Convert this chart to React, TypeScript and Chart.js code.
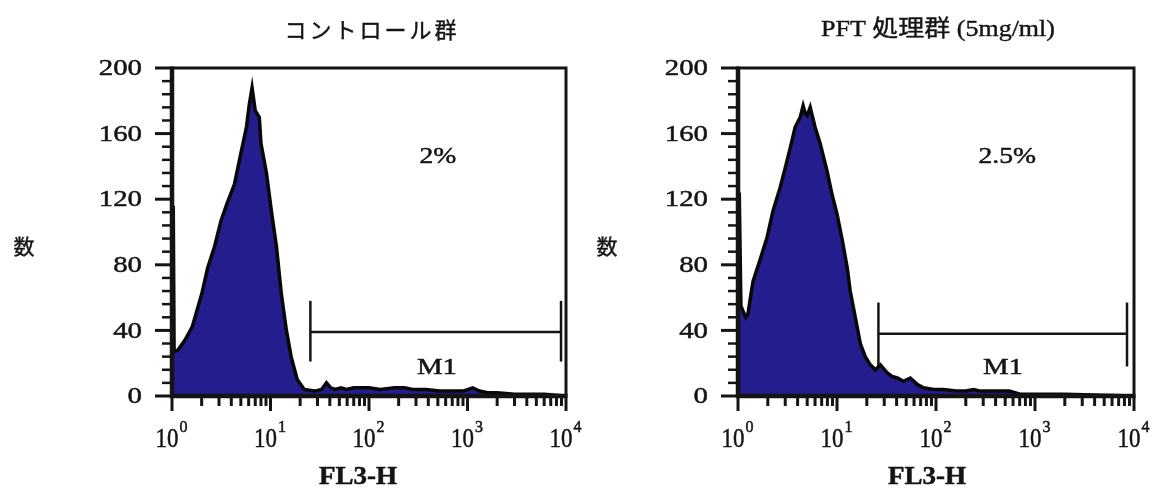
import React, { useEffect, useRef } from "react";
import { Chart, registerables } from "chart.js";
Chart.register(...registerables);

// ---------- data ----------
const controlX = [1, 1.03, 1.05, 1.15, 1.35, 1.6, 2.0, 2.3, 2.7, 3.15, 3.6, 4.3, 5.0, 5.7, 6.1, 6.5, 7.0, 7.7, 8.0, 9.1, 10.2, 11.5, 12.9, 14.5, 16.2, 18.7, 22, 28, 33, 37, 41, 45, 52, 59, 70, 85, 100, 130, 182, 230, 277, 380, 520, 700, 900, 1130, 1320, 1600, 2000, 3000, 4300, 6000, 10000];
const controlY = [115, 115, 27, 28, 34, 42, 62, 78, 91, 107, 117, 129, 148, 164, 178, 188, 174, 170, 154, 136, 113, 91, 62, 40, 24, 10, 4, 3, 4, 8, 5, 4, 5, 4, 5, 5, 5, 4, 5, 5, 4, 4, 3, 3, 3, 5, 3, 2, 2, 1, 1, 1, 0];

const pftX = [1, 1.03, 1.07, 1.12, 1.2, 1.26, 1.32, 1.42, 1.67, 1.97, 2.26, 2.66, 3.0, 3.36, 3.78, 4.25, 4.55, 4.8, 5.0, 5.36, 6.0, 6.76, 7.95, 8.9, 10.0, 11.3, 12.7, 13.6, 15.3, 17.2, 19.3, 21.7, 24.4, 27.4, 32.3, 36, 40.7, 46.8, 55, 65, 74.8, 95, 119, 160, 200, 240, 281, 400, 550, 720, 1000, 2000, 5000, 10000];
const pftY = [123, 123, 55, 52, 48, 50, 58, 70, 83, 97, 113, 127, 139, 151, 164, 170, 177, 172, 171, 176, 164, 154, 137, 123, 111, 95, 78, 64, 48, 32, 24, 19, 16, 19, 14, 12, 11, 9, 11, 7, 5, 4, 4, 3, 3, 4, 3, 3, 3, 1, 1, 1, 0.5, 0];

const controlGate = [25.4, 8900]; // M1 range
const controlGateLevel = [39, 21, 58]; // bar level, end-cap low, end-cap high
const pftGate = [26.2, 8500];
const pftGateLevel = [38, 18, 57];

const controlPct = "2%";
const pftPct = "2.5%";
const gateLabel = "M1";
const pctPos = [500, 146];
const m1Pos = [490, 17];
const pftPctPos = [525, 146];
const pftM1Pos = [475, 17];

const yTicks = [0, 40, 80, 120, 160, 200];
const xTickValues = [1, 10, 100, 1000, 10000];
const xTickBase = "10";
const xTickExps = ["0", "1", "2", "3", "4"];

const controlTitle = "コントロール群";
const pftTitle = "PFT 処理群 (5mg/ml)";
const yTitle = "数";
const xTitle = "FL3-H";

// ---------- styles ----------
const H = 491;
const NAVY = "#231d8e";
const INK = "#141414";
const SERIF = '"Liberation Serif", "DejaVu Serif", serif';
const CJK = '"Noto Sans CJK JP", "Noto Sans CJK SC", sans-serif';

function txt(ctx: CanvasRenderingContext2D, s: string, x: number, y: number, font: string, align: CanvasTextAlign, sx = 1, baseline: CanvasTextBaseline = "middle", spacing = 0, stroke = 0.5) {
  ctx.save();
  ctx.font = font;
  ctx.textAlign = align;
  ctx.textBaseline = baseline;
  ctx.fillStyle = INK;
  ctx.strokeStyle = INK;
  try { (ctx as any).letterSpacing = spacing + "px"; } catch (e) {}
  ctx.translate(x, y);
  ctx.scale(sx, 1);
  ctx.fillText(s, 0, 0);
  if (stroke > 0) {
    ctx.lineWidth = stroke;
    ctx.strokeText(s, 0, 0);
  }
  ctx.restore();
}

type PanelProps = {
  xs: number[]; ys: number[]; gate: number[]; gateLevel: number[];
  pct: string; pctAt: number[]; m1At: number[];
  title: string; titleFont: string; titleSx: number; titleSpacing: number; titleX: number;
  area: { left: number; right: number; top: number; bottom: number };
  yTitleX: number; xTitleX: number; left: number; width: number;
};

function Panel(p: PanelProps) {
  const ref = useRef<HTMLCanvasElement>(null);
  useEffect(() => {
    const canvas = ref.current!;
    const decor = {
      id: "decor",
      afterDatasetsDraw(chart: any) {
        const ctx: CanvasRenderingContext2D = chart.ctx;
        const a = chart.chartArea;
        const xs = chart.scales.x;
        const ys = chart.scales.y;
        ctx.save();
        ctx.strokeStyle = INK;
        ctx.lineCap = "butt";
        // y ticks
        for (let v = 0; v <= 200; v += 8) {
          const y = ys.getPixelForValue(v);
          const major = v % 40 === 0;
          ctx.lineWidth = major ? 3 : 2.5;
          ctx.beginPath();
          ctx.moveTo(a.left - (major ? 17 : 10), y);
          ctx.lineTo(a.left, y);
          ctx.stroke();
        }
        // x ticks
        for (let d = 0; d <= 4; d++) {
          for (let k = 1; k <= 9; k++) {
            const v = k * Math.pow(10, d);
            if (v > 10000) break;
            const x = xs.getPixelForValue(v);
            const major = k === 1;
            ctx.lineWidth = 3;
            ctx.beginPath();
            ctx.moveTo(x, a.bottom);
            ctx.lineTo(x, a.bottom + (major ? 15 : 10));
            ctx.stroke();
          }
        }
        // frame
        ctx.lineWidth = 3;
        ctx.beginPath();
        ctx.moveTo(a.left, a.top);
        ctx.lineTo(a.right, a.top);
        ctx.lineTo(a.right, a.bottom);
        ctx.stroke();
        ctx.lineWidth = 4.5;
        ctx.beginPath();
        ctx.moveTo(a.left, a.top - 1.5);
        ctx.lineTo(a.left, a.bottom);
        ctx.lineTo(a.right + 1.5, a.bottom);
        ctx.stroke();
        ctx.restore();
      },
      afterDraw(chart: any) {
        const ctx: CanvasRenderingContext2D = chart.ctx;
        const a = chart.chartArea;
        const xs = chart.scales.x;
        const ys = chart.scales.y;
        // y tick labels
        yTicks.forEach((v) => {
          txt(ctx, String(v), a.left - 30, ys.getPixelForValue(v) + 1, `24px ${SERIF}`, "right", 1.2);
        });
        // x tick labels with superscripts
        xTickValues.forEach((v, i) => {
          const x = xs.getPixelForValue(v);
          ctx.save();
          ctx.font = `27px ${SERIF}`;
          const w1 = ctx.measureText(xTickBase).width * 0.85;
          ctx.font = `16px ${SERIF}`;
          const w2 = ctx.measureText(xTickExps[i]).width;
          ctx.restore();
          const start = x - (w1 + w2) / 2 - 1;
          txt(ctx, xTickBase, start, a.bottom + 51, `27px ${SERIF}`, "left", 0.85, "alphabetic");
          txt(ctx, xTickExps[i], start + w1 + 1, a.bottom + 36, `16px ${SERIF}`, "left", 1.0, "alphabetic");
        });
        // annotations
        txt(ctx, p.pct, xs.getPixelForValue(p.pctAt[0]), ys.getPixelForValue(p.pctAt[1]), `24px ${SERIF}`, "center", 1.15);
        txt(ctx, gateLabel, xs.getPixelForValue(p.m1At[0]), ys.getPixelForValue(p.m1At[1]), `24px ${SERIF}`, "center", 1.2);
        // titles
        txt(ctx, p.title, p.titleX, 30, p.titleFont, "center", p.titleSx, "middle", p.titleSpacing, 0.4);
        txt(ctx, yTitle, p.yTitleX, 246, `21px ${CJK}`, "center", 1, "middle", 0, 0.4);
        txt(ctx, xTitle, p.xTitleX, 478, `bold 25px ${SERIF}`, "center", 1.08);
      },
    };
    const lineDs = (pts: { x: number; y: number }[]) => ({
      data: pts, borderColor: INK, borderWidth: 2.5, pointRadius: 0, fill: false, tension: 0,
    });
    const chart = new Chart(canvas, {
      type: "line",
      data: {
        datasets: [
          {
            data: p.xs.map((x, i) => ({ x, y: p.ys[i] })),
            fill: "origin",
            backgroundColor: NAVY,
            borderColor: "#080808",
            borderWidth: 3.5,
            pointRadius: 0,
            tension: 0,
          } as any,
          lineDs([{ x: p.gate[0], y: p.gateLevel[0] }, { x: p.gate[1], y: p.gateLevel[0] }]),
          lineDs([{ x: p.gate[0], y: p.gateLevel[1] }, { x: p.gate[0], y: p.gateLevel[2] }]),
          lineDs([{ x: p.gate[1], y: p.gateLevel[1] }, { x: p.gate[1], y: p.gateLevel[2] }]),
        ],
      },
      options: {
        responsive: false,
        animation: false,
        devicePixelRatio: 1,
        layout: { padding: { left: p.area.left, right: p.width - p.area.right, top: p.area.top, bottom: H - p.area.bottom } },
        plugins: { legend: { display: false }, tooltip: { enabled: false }, title: { display: false } },
        scales: {
          x: { type: "logarithmic", min: 1, max: 10000, display: false },
          y: { type: "linear", min: 0, max: 200, display: false },
        },
      } as any,
      plugins: [decor],
    });
    return () => chart.destroy();
  }, []);
  return (
    <canvas ref={ref} width={p.width} height={H} style={{ position: "absolute", left: p.left, top: 0, width: p.width, height: H }} />
  );
}

export default function App() {
  return (
    <div style={{ position: "absolute", left: 0, top: 0, width: 1154, height: 491, background: "#fff", overflow: "hidden" }}>
      <Panel
        xs={controlX} ys={controlY} gate={controlGate} gateLevel={controlGateLevel}
        pct={controlPct} pctAt={pctPos} m1At={m1Pos}
        title={controlTitle} titleFont={`22px ${CJK}`} titleSx={1} titleSpacing={3} titleX={372}
        area={{ left: 172, right: 566, top: 68, bottom: 396 }}
        yTitleX={24} xTitleX={358} left={0} width={600}
      />
      <Panel
        xs={pftX} ys={pftY} gate={pftGate} gateLevel={pftGateLevel}
        pct={pftPct} pctAt={pftPctPos} m1At={pftM1Pos}
        title={pftTitle} titleFont={`23px "Liberation Serif", "Noto Sans CJK JP", serif`} titleSx={1.13} titleSpacing={0} titleX={361}
        area={{ left: 161, right: 557, top: 68, bottom: 396 }}
        yTitleX={30} xTitleX={350} left={577} width={577}
      />
    </div>
  );
}
